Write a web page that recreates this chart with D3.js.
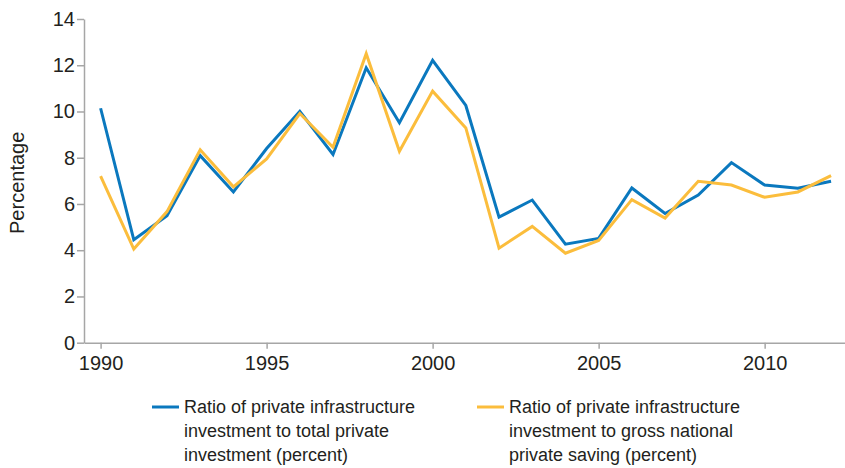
<!DOCTYPE html>
<html>
<head>
<meta charset="utf-8">
<script src="https://cdn.jsdelivr.net/npm/d3@7"></script>
<style>
  body { margin: 0; background: #fff; }
  svg { display: block; }
  text { font-family: "Liberation Sans Narrow", "Arial Narrow", "Liberation Sans", sans-serif; fill: #231f20; }
</style>
</head>
<body>
<div id="chart"></div>
<script>
const years = d3.range(1990, 2013)
const totalInvestment = [10.14, 4.45, 5.49, 8.09, 6.52, 8.4, 10.01, 8.14, 11.89, 9.51, 12.21, 10.26,
  5.43, 6.17, 4.26, 4.51, 6.69, 5.59, 6.39, 7.79, 6.82, 6.68, 6.98]
const nationalSaving = [7.2, 4.05, 5.67, 8.34, 6.74, 7.95, 9.91, 8.45, 12.5, 8.28, 10.88, 9.29,
  4.09, 5.03, 3.87, 4.42, 6.19, 5.39, 6.98, 6.82, 6.29, 6.52, 7.23]
const xTicks = [1990, 1995, 2000, 2005, 2010]
const yTicks = [0, 2, 4, 6, 8, 10, 12, 14]
const seriesNames = [
  ["Ratio of private infrastructure", "investment to total private", "investment (percent)"],
  ["Ratio of private infrastructure", "investment to gross national", "private saving (percent)"]
]

const W = 845, H = 468
const MARGIN = { TOP: 19, BOTTOM: 125.3, LEFT: 84, RIGHT: 0 }
const COLORS = ["#0a78be", "#fbbd3c"]

const svg = d3.select("#chart").append("svg")
  .attr("width", W)
  .attr("height", H)

const x = d3.scaleLinear()
  .domain([1989.5, 2012.42])
  .range([MARGIN.LEFT, W - MARGIN.RIGHT])

const y = d3.scaleLinear()
  .domain([0, 14])
  .range([H - MARGIN.BOTTOM, MARGIN.TOP])

// axes
const xAxis = svg.append("g")
  .attr("transform", `translate(0, ${y(0)})`)
  .call(d3.axisBottom(x).tickValues(xTicks).tickFormat(d3.format("d")).tickSize(6).tickSizeOuter(0))
const yAxis = svg.append("g")
  .attr("transform", `translate(${MARGIN.LEFT}, 0)`)
  .call(d3.axisLeft(y).tickValues(yTicks).tickSize(7).tickSizeOuter(0))

for (const ax of [xAxis, yAxis]) {
  ax.select(".domain").attr("stroke", "#a6a6a6").attr("stroke-width", 1.5)
  ax.selectAll(".tick line").attr("stroke", "#a6a6a6").attr("stroke-width", 1.5)
  ax.selectAll(".tick text")
    .attr("font-size", 20)
    .attr("font-family", null)
    .attr("fill", "#231f20")
}
xAxis.selectAll(".tick text").attr("dy", "0.95em").attr("y", 8)
yAxis.selectAll(".tick text").attr("x", -9)

svg.append("text")
  .attr("transform", `translate(24, ${(y(0) + y(14)) / 2 + 2}) rotate(-90)`)
  .attr("text-anchor", "middle")
  .attr("font-size", 20)
  .text("Percentage")

// lines
const line = d3.line()
  .x((d, i) => x(years[i]))
  .y(d => y(d))

;[totalInvestment, nationalSaving].forEach((vals, k) => {
  svg.append("path")
    .datum(vals)
    .attr("fill", "none")
    .attr("stroke", COLORS[k])
    .attr("stroke-width", 3)
    .attr("stroke-linejoin", "miter")
    .attr("d", line)
})

// legend
const legendX = [152, 477]
seriesNames.forEach((lines, k) => {
  const g = svg.append("g").attr("transform", `translate(${legendX[k]}, 407)`)
  g.append("line")
    .attr("x1", 0).attr("x2", 27)
    .attr("stroke", COLORS[k])
    .attr("stroke-width", 3)
  const t = g.append("text")
    .attr("x", 32)
    .attr("y", 6)
    .attr("font-size", 18)
  lines.forEach((s, i) => {
    t.append("tspan").attr("x", 32).attr("dy", i ? 24 : 0).text(s)
  })
})
</script>
</body>
</html>
